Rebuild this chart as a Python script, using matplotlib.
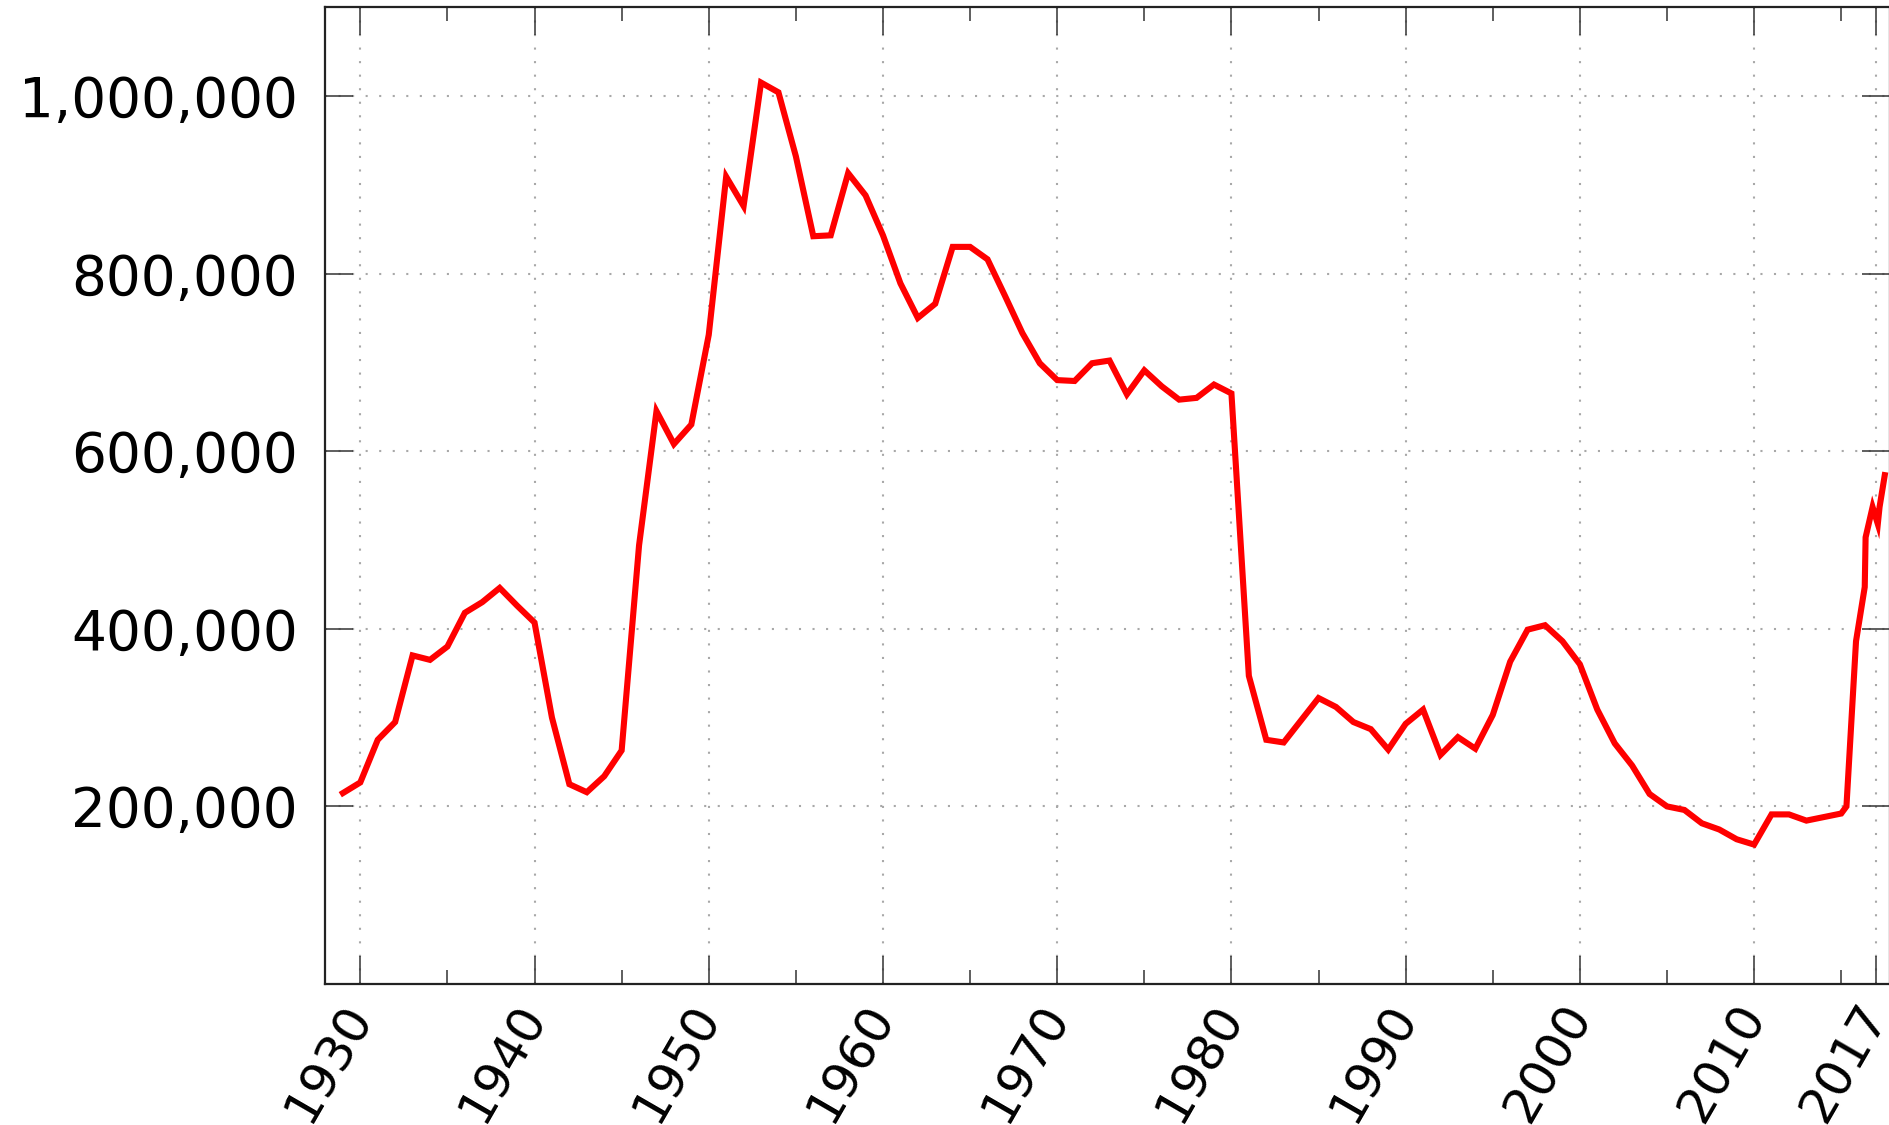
import numpy as np               # numeric arrays
import matplotlib
matplotlib.use("Agg")
import matplotlib.pyplot as plt  # plotting
from matplotlib.ticker import FuncFormatter

# =========================================================================================
# Data (year, population)
# =========================================================================================
years = [1929, 1930, 1931, 1932, 1933, 1934, 1935, 1936, 1937, 1938, 1939,
         1940, 1941, 1942, 1943, 1944, 1945, 1946, 1947, 1948, 1949,
         1950, 1951, 1952, 1953, 1954, 1955, 1956, 1957, 1958, 1959,
         1960, 1961, 1962, 1963, 1964, 1965, 1966, 1967, 1968, 1969,
         1970, 1971, 1972, 1973, 1974, 1975, 1976, 1977, 1978, 1979,
         1980, 1981, 1982, 1983, 1984, 1985, 1986, 1987, 1988, 1989,
         1990, 1991, 1992, 1993, 1994, 1995, 1996, 1997, 1998, 1999,
         2000, 2001, 2002, 2003, 2004, 2005, 2006, 2007, 2008, 2009,
         2010, 2011, 2012, 2013, 2014, 2015, 2015.3, 2015.85, 2016.35, 2016.4,
         2016.8, 2017.1, 2017.2, 2017.5]

population = [215000, 227000, 275000, 295000, 370000, 365000, 380000, 418000, 430000, 446000, 426000,
              407000, 300000, 225000, 216000, 234000, 263000, 494000, 645000, 608000, 630000,
              731000, 909000, 876000, 1015000, 1004000, 932000, 842000, 843000, 913000, 888000,
              843000, 789000, 750000, 766000, 830000, 830000, 816000, 775000, 733000, 699000,
              680000, 679000, 699000, 702000, 664000, 691000, 673000, 658000, 660000, 675000,
              665000, 347000, 275000, 272000, 297000, 322000, 312000, 295000, 287000, 264000,
              293000, 309000, 258000, 278000, 265000, 303000, 363000, 399000, 404000, 386000,
              360000, 309000, 271000, 246000, 214000, 200000, 196000, 181000, 174000, 163000,
              157000, 191000, 191000, 184000, 188000, 192000, 200000, 386000, 447000, 503000,
              537000, 518000, 537000, 573000]

# Ticks
x_major = [1930, 1940, 1950, 1960, 1970, 1980, 1990, 2000, 2010, 2017]
x_minor = [1935, 1945, 1955, 1965, 1975, 1985, 1995, 2005, 2015]
y_major = [200000, 400000, 600000, 800000, 1000000]

# =========================================================================================
# Draw
# =========================================================================================
plt.rcParams['font.family'] = ['DejaVu Sans']

fig = plt.figure(figsize=(18.9, 11.25), dpi=100)
ax = fig.add_axes([0.1722, 0.1253, 0.8278, 0.8684])

ax.plot(years, population, color="#ff0000", linewidth=4.4, solid_joinstyle="miter", zorder=3)

ax.set_xlim(1928, 2017.8)
ax.set_ylim(0, 1100000)

ax.set_xticks(x_major)
ax.set_xticks(x_minor, minor=True)
ax.set_yticks(y_major)
ax.yaxis.set_major_formatter(FuncFormatter(lambda v, p: "{:,}".format(int(v))))

# dotted grey grid on major ticks only
ax.grid(True, which="major", color="#a8a8a8", linewidth=1.5, linestyle=(0, (1.0, 5.5)))

# inward ticks on all sides
ax.tick_params(axis="both", which="major", direction="in", length=20, width=1.1,
               top=True, right=True, color="#333333")
ax.tick_params(axis="x", which="minor", direction="in", length=10, width=1.1,
               top=True, color="#333333")
ax.tick_params(axis="y", which="major", pad=20, labelsize=39.5)
ax.tick_params(axis="x", which="major", pad=17, labelsize=36)

for lab in ax.get_xticklabels():
    lab.set_rotation(60)
    lab.set_ha("right")
    lab.set_va("center")
    lab.set_rotation_mode("anchor")

for s in ax.spines.values():
    s.set_linewidth(1.6)
    s.set_color("#222222")

fig.savefig("out.png", dpi=100)
